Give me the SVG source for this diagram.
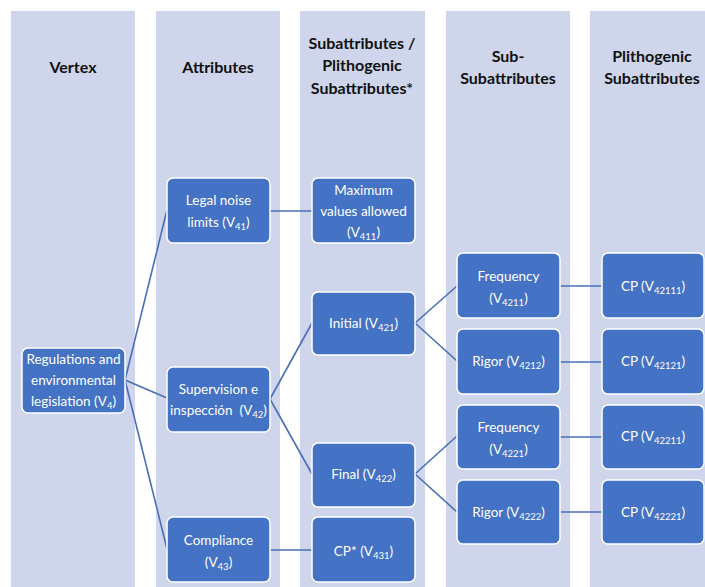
<svg xmlns="http://www.w3.org/2000/svg" width="705" height="587" viewBox="0 0 705 587">
  <style>
    .lane { fill: #cfd5ea; }
    .hdr { font-family: Lato, "Liberation Sans", sans-serif; font-weight: bold; font-size: 16px; fill: #111; text-anchor: middle; }
    .box { fill: #4472c4; stroke: #ffffff; stroke-width: 1.5; }
    .lbl { font-family: Lato, "Liberation Sans", sans-serif; font-size: 13.5px; fill: #ffffff; text-anchor: middle; }
    .sub { font-size: 9.5px; }
    .wire { stroke: #4a6fb8; stroke-width: 1.6; fill: none; }
  </style>
  <rect width="705" height="587" fill="#ffffff"/>

  <!-- column lanes -->
  <g id="lanes">
    <rect class="lane" x="11" y="11" width="124" height="576"/>
    <rect class="lane" x="156" y="11" width="124" height="576"/>
    <rect class="lane" x="300" y="11" width="125" height="576"/>
    <rect class="lane" x="446" y="11" width="124" height="576"/>
    <rect class="lane" x="590" y="11" width="124" height="576"/>
  </g>

  <!-- column headings -->
  <g id="headers">
    <text class="hdr" x="73" y="73">Vertex</text>
    <text class="hdr" x="218" y="73">Attributes</text>
    <text class="hdr" x="362" y="49">Subattributes /</text>
    <text class="hdr" x="362" y="71">Plithogenic</text>
    <text class="hdr" x="362" y="94">Subattributes*</text>
    <text class="hdr" x="508" y="62">Sub-</text>
    <text class="hdr" x="508" y="84">Subattributes</text>
    <text class="hdr" x="652" y="62">Plithogenic</text>
    <text class="hdr" x="652" y="84">Subattributes</text>
  </g>

  <!-- connectors -->
  <g id="connectors">
    <line class="wire" x1="125" y1="380" x2="167" y2="210"/>
    <line class="wire" x1="125" y1="380" x2="167" y2="398"/>
    <line class="wire" x1="125" y1="380" x2="167" y2="549"/>
    <line class="wire" x1="270" y1="211" x2="312" y2="211"/>
    <line class="wire" x1="270" y1="399" x2="312" y2="323"/>
    <line class="wire" x1="270" y1="399" x2="312" y2="474"/>
    <line class="wire" x1="270" y1="550" x2="312" y2="550"/>
    <line class="wire" x1="415" y1="323" x2="457" y2="286"/>
    <line class="wire" x1="415" y1="323" x2="457" y2="361"/>
    <line class="wire" x1="560" y1="286" x2="602" y2="286"/>
    <line class="wire" x1="560" y1="362" x2="602" y2="362"/>
    <line class="wire" x1="415" y1="474" x2="457" y2="436"/>
    <line class="wire" x1="415" y1="474" x2="457" y2="512"/>
    <line class="wire" x1="560" y1="437" x2="602" y2="437"/>
    <line class="wire" x1="560" y1="512" x2="602" y2="512"/>
  </g>

  <g id="v4">
    <rect class="box" x="22" y="348" width="103" height="65" rx="6"/>
    <text class="lbl" x="73.5" y="364">Regulations and</text>
    <text class="lbl" x="73.5" y="385">environmental</text>
    <text class="lbl" x="73.5" y="406">legislation (V<tspan class="sub" dy="3">4</tspan><tspan dy="-3">)</tspan></text>
  </g>

  <g id="v41">
    <rect class="box" x="167" y="178" width="103" height="65" rx="6"/>
    <text class="lbl" x="218.5" y="205">Legal noise</text>
    <text class="lbl" x="218.5" y="227">limits (V<tspan class="sub" dy="3">41</tspan><tspan dy="-3">)</tspan></text>
  </g>

  <g id="v42">
    <rect class="box" x="167" y="367" width="103" height="65" rx="6"/>
    <text class="lbl" x="218.5" y="394">Supervision e</text>
    <text class="lbl" x="218.5" y="415">inspección&#160; (V<tspan class="sub" dy="3">42</tspan><tspan dy="-3">)</tspan></text>
  </g>

  <g id="v43">
    <rect class="box" x="167" y="517" width="103" height="65" rx="6"/>
    <text class="lbl" x="218.5" y="545">Compliance</text>
    <text class="lbl" x="218.5" y="567">(V<tspan class="sub" dy="3">43</tspan><tspan dy="-3">)</tspan></text>
  </g>

  <g id="v411">
    <rect class="box" x="312" y="178" width="103" height="65" rx="6"/>
    <text class="lbl" x="363.5" y="195">Maximum</text>
    <text class="lbl" x="363.5" y="216">values allowed</text>
    <text class="lbl" x="363.5" y="237">(V<tspan class="sub" dy="3">411</tspan><tspan dy="-3">)</tspan></text>
  </g>

  <g id="v421">
    <rect class="box" x="312" y="292" width="103" height="63" rx="6"/>
    <text class="lbl" x="363.5" y="328">Initial (V<tspan class="sub" dy="3">421</tspan><tspan dy="-3">)</tspan></text>
  </g>

  <g id="v422">
    <rect class="box" x="312" y="443" width="103" height="64" rx="6"/>
    <text class="lbl" x="363.5" y="479">Final (V<tspan class="sub" dy="3">422</tspan><tspan dy="-3">)</tspan></text>
  </g>

  <g id="v431">
    <rect class="box" x="312" y="517" width="103" height="65" rx="6"/>
    <text class="lbl" x="363.5" y="556">CP* (V<tspan class="sub" dy="3">431</tspan><tspan dy="-3">)</tspan></text>
  </g>

  <g id="v4211">
    <rect class="box" x="457" y="253" width="103" height="65" rx="6"/>
    <text class="lbl" x="508.5" y="281">Frequency</text>
    <text class="lbl" x="508.5" y="303">(V<tspan class="sub" dy="3">4211</tspan><tspan dy="-3">)</tspan></text>
  </g>

  <g id="v4212">
    <rect class="box" x="457" y="329" width="103" height="65" rx="6"/>
    <text class="lbl" x="508.5" y="366">Rigor (V<tspan class="sub" dy="3">4212</tspan><tspan dy="-3">)</tspan></text>
  </g>

  <g id="v4221">
    <rect class="box" x="457" y="405" width="103" height="64" rx="6"/>
    <text class="lbl" x="508.5" y="432">Frequency</text>
    <text class="lbl" x="508.5" y="454">(V<tspan class="sub" dy="3">4221</tspan><tspan dy="-3">)</tspan></text>
  </g>

  <g id="v4222">
    <rect class="box" x="457" y="480" width="103" height="64" rx="6"/>
    <text class="lbl" x="508.5" y="517">Rigor (V<tspan class="sub" dy="3">4222</tspan><tspan dy="-3">)</tspan></text>
  </g>

  <g id="v42111">
    <rect class="box" x="602" y="253" width="102" height="65" rx="6"/>
    <text class="lbl" x="653" y="291">CP (V<tspan class="sub" dy="3">42111</tspan><tspan dy="-3">)</tspan></text>
  </g>

  <g id="v42121">
    <rect class="box" x="602" y="329" width="102" height="65" rx="6"/>
    <text class="lbl" x="653" y="366">CP (V<tspan class="sub" dy="3">42121</tspan><tspan dy="-3">)</tspan></text>
  </g>

  <g id="v42211">
    <rect class="box" x="602" y="405" width="102" height="64" rx="6"/>
    <text class="lbl" x="653" y="441">CP (V<tspan class="sub" dy="3">42211</tspan><tspan dy="-3">)</tspan></text>
  </g>

  <g id="v42221">
    <rect class="box" x="602" y="480" width="102" height="64" rx="6"/>
    <text class="lbl" x="653" y="517">CP (V<tspan class="sub" dy="3">42221</tspan><tspan dy="-3">)</tspan></text>
  </g>
</svg>
